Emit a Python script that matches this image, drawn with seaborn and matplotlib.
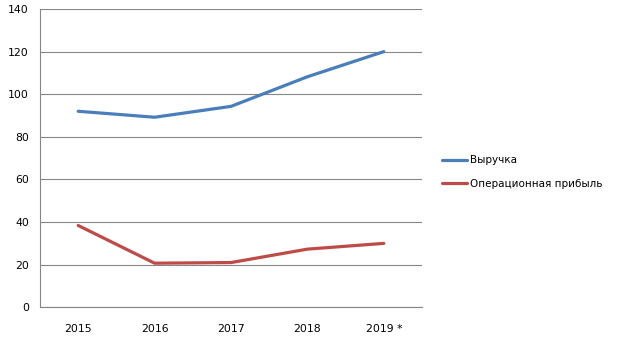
import matplotlib
matplotlib.use("Agg")
import matplotlib.pyplot as plt
import seaborn as sns
import pandas as pd
from matplotlib.ticker import FixedLocator, NullFormatter
from matplotlib.lines import Line2D

years = ["2015", "2016", "2017", "2018", "2019 *"]
revenue = [92, 89.2, 94.3, 108.2, 120]
op_profit = [38.4, 20.7, 21.0, 27.3, 30.0]
series_names = ["Выручка", "Операционная прибыль"]
colors = ["#4A7EBB", "#BE4B48"]
yticks = [0, 20, 40, 60, 80, 100, 120, 140]

df = pd.DataFrame({
    "year": years * 2,
    "x": list(range(len(years))) * 2,
    "value": revenue + op_profit,
    "series": [series_names[0]] * len(years) + [series_names[1]] * len(years),
})

sns.set_theme(style="white")
plt.rcParams["font.family"] = ["DejaVu Sans"]
plt.rcParams["text.color"] = "black"
plt.rcParams["xtick.color"] = "black"
plt.rcParams["ytick.color"] = "black"

fig = plt.figure(figsize=(6.18, 3.44), dpi=100)
ax = fig.add_axes([40 / 618, (344 - 307.3) / 344, (422 - 40) / 618, (307.3 - 9) / 344])

sns.lineplot(data=df, x="x", y="value", hue="series", palette=colors,
             linewidth=2.3, ax=ax, legend=False)

ax.set_xlim(-0.5, len(years) - 0.5)
ax.set_ylim(0, 140)
ax.set_yticks(yticks)
ax.set_yticklabels([str(t) for t in yticks])
ax.set_xticks(range(len(years)))
ax.set_xticklabels(years)
ax.xaxis.set_minor_locator(FixedLocator([i - 0.5 for i in range(len(years) + 1)]))
ax.xaxis.set_minor_formatter(NullFormatter())
ax.tick_params(axis="x", which="major", length=0, pad=12, labelsize=7.8, labelcolor="black")
ax.tick_params(axis="x", which="minor", length=5, width=0.8, color="#868686", direction="out")
ax.tick_params(axis="y", which="major", length=5, width=0.8, color="#868686",
               direction="out", labelsize=7.8, pad=3, labelcolor="black")
ax.set_xlabel("")
ax.set_ylabel("")
ax.grid(axis="y", color="#868686", linewidth=0.8)
ax.grid(axis="x", visible=False)
for s in ["top", "right"]:
    ax.spines[s].set_visible(False)
for s in ["left", "bottom"]:
    ax.spines[s].set_color("#868686")
    ax.spines[s].set_linewidth(0.8)
ax.set_axisbelow(True)

handles = [Line2D([], [], color=c, linewidth=2.3) for c in colors]
fig.legend(handles, series_names, loc="center left", bbox_to_anchor=(438 / 618, 1 - 172 / 344),
           frameon=False, fontsize=7.5, handlelength=2.4, handletextpad=0.25,
           labelspacing=1.3, borderaxespad=0)

fig.savefig("out.png", dpi=100, facecolor="white")
